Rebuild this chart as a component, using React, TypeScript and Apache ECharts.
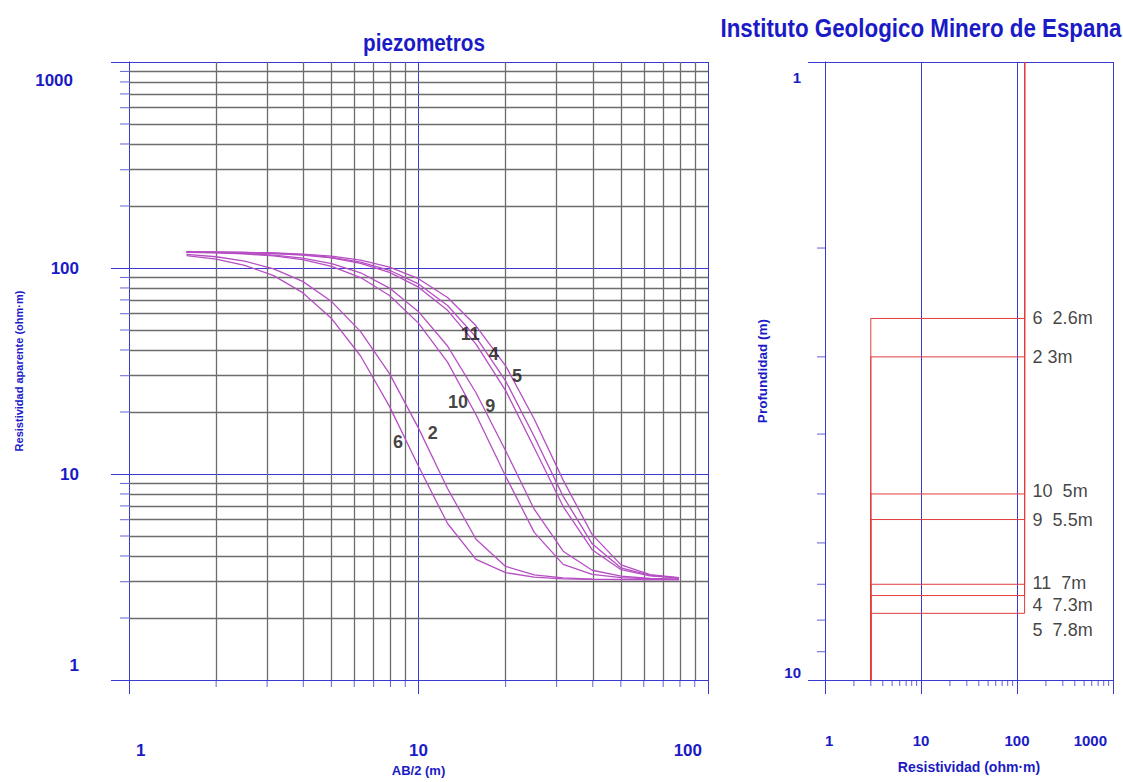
import React, { useEffect, useRef } from "react";
import * as echarts from "echarts";

// ---------- data ----------
const ab2 = [1.58, 2, 2.51, 3.16, 3.98, 5.01, 6.31, 7.94, 10, 12.6, 15.8, 20, 25.1, 31.6, 39.8, 50.1, 63.1, 79.4];

const curveIds = ["6", "2", "10", "9", "11", "4", "5"];
const rho6 = [114.8, 110.5, 103.1, 91.8, 75.9, 56.8, 37.4, 21.3, 10.9, 5.75, 3.85, 3.32, 3.16, 3.1, 3.08, 3.07, 3.07, 3.07];
const rho2 = [116.4, 113.4, 108.0, 99.1, 86.1, 68.7, 49.1, 30.7, 16.7, 8.5, 4.82, 3.56, 3.24, 3.13, 3.09, 3.08, 3.07, 3.07];
const rho10 = [119.1, 118.4, 117.0, 114.4, 109.7, 101.9, 89.9, 73.5, 54.0, 34.9, 19.4, 9.76, 5.21, 3.64, 3.26, 3.14, 3.1, 3.08];
const rho9 = [119.3, 118.7, 117.6, 115.5, 111.6, 105.1, 94.8, 79.9, 61.4, 41.8, 24.8, 12.97, 6.75, 4.22, 3.41, 3.19, 3.11, 3.09];
const rho11 = [119.6, 119.3, 118.8, 117.6, 115.6, 111.9, 105.4, 95.3, 80.7, 62.3, 42.7, 25.4, 13.4, 6.95, 4.29, 3.43, 3.2, 3.12];
const rho4 = [119.7, 119.4, 118.9, 117.9, 116.1, 112.7, 106.9, 97.5, 83.7, 65.8, 46.2, 28.3, 15.2, 7.79, 4.58, 3.5, 3.22, 3.13];
const rho5 = [119.8, 119.5, 119.1, 118.3, 116.8, 114.1, 109.2, 101.0, 88.7, 71.9, 52.4, 33.5, 18.5, 9.34, 5.08, 3.62, 3.25, 3.14];
const curveValues = [rho6, rho2, rho10, rho9, rho11, rho4, rho5];

// curve number labels (data coordinates: AB/2, rho)
const curveLabelX = [8.5, 11.2, 13.7, 17.7, 15.1, 18.2, 21.9];
const curveLabelY = [14.3, 15.8, 22.3, 21.5, 48.0, 38.4, 29.8];

// layered models (right panel)
const modelDepths = [2.6, 3, 5, 5.5, 7, 7.3, 7.8];
const modelLabels = ["6  2.6m", "2 3m", "10  5m", "9  5.5m", "11  7m", "4  7.3m", "5  7.8m"];
const rhoUpper = 120;
const rhoLower = 3;
const depthTop = 1;
const depthBottom = 10;

// axis tick values
const leftXMinor = [2, 3, 4, 5, 6, 7, 8, 9, 20, 30, 40, 50, 60, 70, 80, 90];
const leftYMinor = [2, 3, 4, 5, 6, 7, 8, 9, 20, 30, 40, 50, 60, 70, 80, 90, 200, 300, 400, 500, 600, 700, 800, 900];
const rightXMinor = [2, 3, 4, 5, 6, 7, 8, 9, 20, 30, 40, 50, 60, 70, 80, 90, 200, 300, 400, 500, 600, 700, 800, 900];
const rightYMinor = [2, 3, 4, 5, 6, 7, 8, 9];

// ---------- styles ----------
const BLUE = "#3a3ad2";
const TXT_BLUE = "#1a1ac6";
const GRAY = "#6c6c6c";
const PURPLE = "#b64ec4";
const RED = "#e23c3c";
const FONT = "Liberation Sans";
const labelNudge = [0, 0, -3, 0, -1, 9, 17];

export default function App() {
  const ref = useRef<HTMLDivElement>(null);

  useEffect(() => {
    if (!ref.current) return;
    const chart = echarts.init(ref.current, undefined, { renderer: "svg" });

    const axisCommon = {
      type: "log" as const,
      logBase: 10,
      axisLine: { show: true, lineStyle: { color: BLUE, width: 1 } },
      splitLine: { show: true, lineStyle: { color: BLUE, width: 1 } },
      minorTick: { show: false },
      minorSplitLine: { show: false },
    };

    const series: any[] = [];

    // left gray minor grid
    series.push({
      type: "line",
      xAxisIndex: 0,
      yAxisIndex: 0,
      data: [],
      silent: true,
      markLine: {
        silent: true,
        symbol: ["none", "none"],
        label: { show: false },
        emphasis: { disabled: true },
        lineStyle: { color: GRAY, width: 1.3, type: "solid" },
        data: [
          ...leftXMinor.map((v) => ({ xAxis: v })),
          ...leftYMinor.map((v) => ({ yAxis: v })),
        ],
      },
    });

    // left minor ticks
    series.push({
      type: "scatter",
      xAxisIndex: 0,
      yAxisIndex: 0,
      silent: true,
      clip: false,
      data: leftYMinor.map((v) => [1, v]),
      symbol: "rect",
      symbolSize: [9, 1],
      symbolOffset: [-4.5, 0],
      itemStyle: { color: BLUE },
      z: 3,
    });
    series.push({
      type: "scatter",
      xAxisIndex: 0,
      yAxisIndex: 0,
      silent: true,
      clip: false,
      data: leftXMinor.map((v) => [v, 1]),
      symbol: "rect",
      symbolSize: [1, 7],
      symbolOffset: [0, 3.5],
      itemStyle: { color: BLUE },
      z: 3,
    });

    // curves
    curveValues.forEach((vals, ci) => {
      series.push({
        name: curveIds[ci],
        type: "line",
        xAxisIndex: 0,
        yAxisIndex: 0,
        data: ab2.map((x, i) => [x, vals[i]]),
        symbol: "none",
        showSymbol: false,
        lineStyle: { color: PURPLE, width: 1.3 },
        z: 5,
        silent: true,
      });
    });

    // curve number labels
    series.push({
      type: "scatter",
      xAxisIndex: 0,
      yAxisIndex: 0,
      silent: true,
      clip: false,
      symbolSize: 0,
      data: curveLabelX.map((x, i) => ({
        value: [x, curveLabelY[i]],
        label: { formatter: curveIds[i] },
      })),
      label: {
        show: true,
        position: "inside",
        color: "#111111",
        fontWeight: "bold",
        fontSize: 18,
        fontFamily: FONT,
      },
      z: 6,
    });

    // right panel model lines
    modelDepths.forEach((h, i) => {
      series.push({
        name: "model " + curveIds[i],
        type: "line",
        xAxisIndex: 1,
        yAxisIndex: 1,
        data: [
          [rhoUpper, depthTop],
          [rhoUpper, h],
          [rhoLower, h],
          [rhoLower, depthBottom],
        ],
        symbol: "none",
        showSymbol: false,
        lineStyle: { color: RED, width: 1 },
        silent: true,
        z: 4,
      });
    });

    // model labels
    series.push({
      type: "scatter",
      xAxisIndex: 1,
      yAxisIndex: 1,
      silent: true,
      clip: false,
      symbolSize: 0,
      data: modelDepths.map((h, i) => ({
        value: [rhoUpper, h],
        label: { formatter: modelLabels[i], offset: [0, labelNudge[i]] },
      })),
      label: {
        show: true,
        position: "right",
        distance: 8,
        color: "#111111",
        fontSize: 18,
        lineHeight: 18,
        fontFamily: FONT,
      },
      z: 6,
    });

    // right minor ticks
    series.push({
      type: "scatter",
      xAxisIndex: 1,
      yAxisIndex: 1,
      silent: true,
      clip: false,
      data: rightYMinor.map((v) => [1, v]),
      symbol: "rect",
      symbolSize: [8, 1],
      symbolOffset: [-4, 0],
      itemStyle: { color: BLUE },
      z: 3,
    });
    series.push({
      type: "scatter",
      xAxisIndex: 1,
      yAxisIndex: 1,
      silent: true,
      clip: false,
      data: rightXMinor.map((v) => [v, depthBottom]),
      symbol: "rect",
      symbolSize: [1, 6],
      symbolOffset: [0, 3],
      itemStyle: { color: BLUE },
      z: 3,
    });

    const base = { color: TXT_BLUE, fontWeight: "bold" as const, fontFamily: FONT };

    const fmt = (v: number) => String(Math.round(v));

    chart.setOption({
      animation: false,
      backgroundColor: "#ffffff",
      graphic: [
        {
          type: "text",
          x: 424,
          y: 43,
          scaleX: 0.9,
          style: {
            text: "piezometros",
            fill: TXT_BLUE,
            fontSize: 23,
            fontWeight: "bold",
            fontFamily: FONT,
            align: "center",
            verticalAlign: "middle",
          },
        },
        {
          type: "text",
          x: 921,
          y: 28,
          scaleX: 0.86,
          style: {
            text: "Instituto Geologico Minero de Espana",
            fill: TXT_BLUE,
            fontSize: 26,
            fontWeight: "bold",
            fontFamily: FONT,
            align: "center",
            verticalAlign: "middle",
          },
        },
      ],
      grid: [
        { left: 129, top: 62, width: 579, height: 621, containLabel: false },
        { left: 825, top: 62, width: 288, height: 618, containLabel: false },
      ],
      xAxis: [
        {
          ...axisCommon,
          gridIndex: 0,
          min: 1,
          max: 100,
          axisTick: { show: true, length: 14, lineStyle: { color: BLUE } },
          axisLabel: {
            show: true,
            margin: 62,
            alignMinLabel: "left",
            alignMaxLabel: "right",
            formatter: (v: number) => {
              const s = fmt(v);
              if (v <= 1) return "{l|" + s + "}";
              if (v >= 100) return "{r|" + s + "}";
              return "{n|" + s + "}";
            },
            rich: {
              n: { ...base, fontSize: 17 },
              l: { ...base, fontSize: 17, padding: [0, 0, 0, 7] },
              r: { ...base, fontSize: 17, padding: [0, 6, 0, 0] },
            },
          },
          name: "AB/2 (m)",
          nameLocation: "middle",
          nameGap: 84,
          nameTextStyle: { ...base, fontSize: 13 },
        },
        {
          ...axisCommon,
          gridIndex: 1,
          min: 1,
          max: 1000,
          axisTick: { show: true, length: 14, lineStyle: { color: BLUE } },
          axisLabel: {
            show: true,
            margin: 53,
            alignMinLabel: "left",
            alignMaxLabel: "right",
            formatter: (v: number) => {
              const s = fmt(v);
              if (v >= 1000) return "{r|" + s + "}";
              return "{n|" + s + "}";
            },
            rich: {
              n: { ...base, fontSize: 15 },
              r: { ...base, fontSize: 15, padding: [0, 6, 0, 0] },
            },
          },
          name: "Resistividad (ohm·m)",
          nameLocation: "middle",
          nameGap: 80,
          nameTextStyle: { ...base, fontSize: 14 },
        },
      ],
      yAxis: [
        {
          ...axisCommon,
          gridIndex: 0,
          min: 1,
          max: 1000,
          axisTick: { show: true, length: 18, lineStyle: { color: BLUE } },
          axisLabel: {
            show: true,
            margin: 50,
            verticalAlignMinLabel: "bottom",
            verticalAlignMaxLabel: "top",
            formatter: (v: number) => {
              const s = fmt(v);
              if (v <= 1) return "{b|" + s + "}";
              if (v >= 1000) return "{t|" + s + "}";
              return "{n|" + s + "}";
            },
            rich: {
              n: { ...base, fontSize: 17 },
              t: { ...base, fontSize: 17, padding: [10, 6, 0, 0] },
              b: { ...base, fontSize: 17, padding: [0, 0, 6, 0] },
            },
          },
          name: "Resistividad aparente (ohm·m)",
          nameLocation: "middle",
          nameGap: 105,
          nameTextStyle: { ...base, fontSize: 11 },
        },
        {
          ...axisCommon,
          gridIndex: 1,
          min: 1,
          max: 10,
          inverse: true,
          axisTick: { show: true, length: 17, lineStyle: { color: BLUE } },
          axisLabel: {
            show: true,
            margin: 24,
            verticalAlignMinLabel: "top",
            verticalAlignMaxLabel: "bottom",
            formatter: (v: number) => {
              const s = fmt(v);
              if (v <= 1) return "{t|" + s + "}";
              return "{n|" + s + "}";
            },
            rich: {
              n: { ...base, fontSize: 15 },
              t: { ...base, fontSize: 15, padding: [8, 0, 0, 0] },
            },
          },
          name: "Profundidad (m)",
          nameLocation: "middle",
          nameGap: 56,
          nameTextStyle: { ...base, fontSize: 13.5 },
        },
      ],
      series,
    });

    return () => {
      chart.dispose();
    };
  }, []);

  return (
    <div
      ref={ref}
      style={{ position: "fixed", left: 0, top: 0, width: 1123, height: 782, background: "#fff" }}
    />
  );
}
